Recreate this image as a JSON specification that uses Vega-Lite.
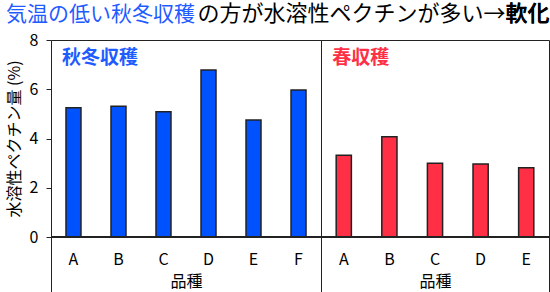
{
  "$schema": "https://vega.github.io/schema/vega-lite/v6.json",
  "padding": {"left": 5, "top": 2, "right": 0, "bottom": 0},
  "background": "white",
  "data": {"values": [
    {"収穫": "秋冬収穫", "品種": "A", "値": 5.25},
    {"収穫": "秋冬収穫", "品種": "B", "値": 5.31},
    {"収穫": "秋冬収穫", "品種": "C", "値": 5.09},
    {"収穫": "秋冬収穫", "品種": "D", "値": 6.78},
    {"収穫": "秋冬収穫", "品種": "E", "値": 4.75},
    {"収穫": "秋冬収穫", "品種": "F", "値": 5.97},
    {"収穫": "春収穫", "品種": "A", "値": 3.32},
    {"収穫": "春収穫", "品種": "B", "値": 4.07},
    {"収穫": "春収穫", "品種": "C", "値": 2.99},
    {"収穫": "春収穫", "品種": "D", "値": 2.96},
    {"収穫": "春収穫", "品種": "E", "値": 2.81}
  ]},
  "config": {
    "font": "Noto Sans CJK JP",
    "view": {"stroke": "#222", "strokeWidth": 1},
    "axis": {"grid": false, "labelFont": "Noto Sans CJK JP", "titleFont": "Noto Sans CJK JP", "labelColor": "#000", "titleColor": "#000", "titleFontWeight": "normal", "labelFontSize": 16, "titleFontSize": 16, "tickColor": "#222"},
    "title": {"font": "Noto Sans CJK JP", "fontSize": 21, "fontWeight": "normal", "offset": 7, "frame": "bounds"}
  },
  "bounds": "flush",
  "spacing": 0,
  "hconcat": [
    {
      "width": 270,
      "height": 253,
      "title": {"text": "気温の低い秋冬収穫", "anchor": "start", "color": "#1f5cff"},
      "layer": [
        {
          "transform": [{"filter": "datum['収穫'] === '秋冬収穫'"}],
          "mark": {"type": "bar", "color": "#0052ff", "stroke": "#222", "strokeWidth": 1.5},
          "encoding": {
            "x": {"field": "品種", "type": "nominal", "scale": {"paddingInner": 0.667, "paddingOuter": 0.333},
                  "axis": {"orient": "bottom", "offset": -56, "domain": false, "ticks": false, "tickSize": 0, "labelPadding": 14, "titlePadding": 6, "labelAngle": 0, "title": "品種"}},
            "y": {"field": "値", "type": "quantitative", "scale": {"domain": [-2.274, 8], "nice": false, "zero": false},
                  "axis": {"values": [0, 2, 4, 6, 8], "domain": false, "tickSize": 5, "labelPadding": 8, "titlePadding": 7, "title": "水溶性ペクチン量 (%)", "titleY": 98.5}}
          }
        },
        {"mark": {"type": "rule", "color": "#222", "strokeWidth": 1}, "encoding": {"y": {"datum": 0}}},
        {
          "data": {"values": [{"label": "秋冬収穫"}]},
          "mark": {"type": "text", "align": "left", "baseline": "middle", "dx": -11.5, "dy": 18, "fontSize": 19, "fontWeight": "bold", "color": "#1f5cff"},
          "encoding": {"text": {"field": "label"}, "x": {"datum": "A"}, "y": {"datum": 8}}
        }
      ]
    },
    {
      "width": 228,
      "height": 253,
      "title": {"text": "の方が水溶性ペクチンが多い→軟化", "anchor": "end", "color": "#000", "fontSize": 22, "offset": 6, "subtitle": "軟化", "subtitleColor": "#000", "subtitleFont": "Noto Sans CJK JP", "subtitleFontSize": 22, "subtitleFontWeight": "bold", "subtitlePadding": -22},
      "layer": [
        {
          "transform": [{"filter": "datum['収穫'] === '春収穫'"}],
          "mark": {"type": "bar", "color": "#ff3045", "stroke": "#222", "strokeWidth": 1.5},
          "encoding": {
            "x": {"field": "品種", "type": "nominal", "scale": {"paddingInner": 0.667, "paddingOuter": 0.333},
                  "axis": {"orient": "bottom", "offset": -56, "domain": false, "ticks": false, "tickSize": 0, "labelPadding": 14, "titlePadding": 6, "labelAngle": 0, "title": "品種"}},
            "y": {"field": "値", "type": "quantitative", "scale": {"domain": [-2.274, 8], "nice": false, "zero": false},
                  "axis": {"values": [0, 2, 4, 6, 8], "domain": false, "ticks": false, "labelPadding": 8, "labelColor": "transparent", "title": null}}
          }
        },
        {"mark": {"type": "rule", "color": "#222", "strokeWidth": 1}, "encoding": {"y": {"datum": 0}}},
        {
          "data": {"values": [{"label": "春収穫"}]},
          "mark": {"type": "text", "align": "left", "baseline": "middle", "dx": -11.5, "dy": 18, "fontSize": 19, "fontWeight": "bold", "color": "#ff3045"},
          "encoding": {"text": {"field": "label"}, "x": {"datum": "A"}, "y": {"datum": 8}}
        }
      ]
    }
  ]
}
